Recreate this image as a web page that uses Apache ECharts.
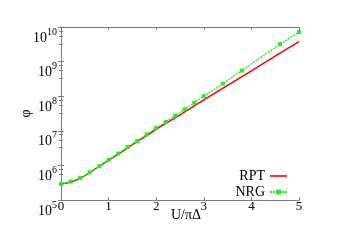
<!DOCTYPE html>
<html><head><meta charset="utf-8">
<script src="https://cdn.jsdelivr.net/npm/echarts@6/dist/echarts.min.js"></script>
<style>html,body{margin:0;padding:0;background:#fff}#c{width:339px;height:240px}</style>
</head><body><div id="c"></div>
<script>
var xTicks = [0, 1, 2, 3, 4, 5];
var yTickExps = [5, 6, 7, 8, 9, 10];
var rptU = [0, 0.2, 0.4, 0.6, 0.8, 1.0, 1.2, 1.4, 1.6, 1.8, 2.0, 2.5, 3.0, 3.5, 4.0, 4.5, 5.0];
var rptPhi = [2.9e5, 3.3e5, 4.2e5, 6.2e5, 9.3e5, 1.4e6, 2.1e6, 3.2e6, 4.9e6, 7.2e6, 1.1e7, 2.9e7, 7.8e7, 2.05e8, 5.4e8, 1.45e9, 3.8e9];
var nrgU = [0, 0.2, 0.4, 0.6, 0.8, 1.0, 1.2, 1.4, 1.6, 1.8, 2.0, 2.2, 2.4, 2.6, 2.8, 3.0, 3.4, 3.8, 4.6, 5.0];
var nrgPhi = [2.9e5, 3.4e5, 4.3e5, 6.3e5, 9.5e5, 1.45e6, 2.2e6, 3.4e6, 5.1e6, 7.9e6, 1.2e7, 1.8e7, 2.75e7, 4.2e7, 6.5e7, 1.0e8, 2.3e8, 5.5e8, 3.2e9, 7.2e9];

var FONT = '"Liberation Serif", "DejaVu Serif", serif';
var AX = '#7f7f7f';
function pairs(a, b) { return a.map(function (v, i) { return [v, b[i]]; }); }
var chart = echarts.init(document.getElementById('c'));
var baseX = { type: 'value', min: 0, max: 5, interval: 1,
  axisLine: { lineStyle: { color: AX, width: 1 } },
  axisTick: { inside: true, length: 3, lineStyle: { color: AX } },
  splitLine: { show: false } };
var baseY = { type: 'log', logBase: 10, min: 1e5, max: 1e10,
  axisLine: { lineStyle: { color: AX, width: 1 } },
  axisTick: { inside: true, length: 3, lineStyle: { color: AX } },
  minorTick: { show: true, splitNumber: 4, length: 2, lineStyle: { color: AX } },
  splitLine: { show: false } };
chart.setOption({
  animation: false,
  backgroundColor: '#fff',
  grid: { left: 61, right: 40, top: 27, bottom: 40 },
  xAxis: [
    Object.assign({}, baseX, { position: 'bottom', name: 'U/πΔ', nameLocation: 'middle', nameGap: 8, nameMoveOverlap: false,
      nameTextStyle: { fontFamily: FONT, fontSize: 14, color: '#000', verticalAlign: 'top', padding: [0, 0, 0, 12] },
      axisLabel: { fontFamily: FONT, fontSize: 13, color: '#000', margin: 0 } }),
    Object.assign({}, baseX, { position: 'top', axisLabel: { show: false } })
  ],
  yAxis: [
    Object.assign({}, baseY, { position: 'left', name: 'φ', nameLocation: 'middle', nameGap: 28, nameRotate: 90, nameMoveOverlap: false,
      nameTextStyle: { fontFamily: FONT, fontSize: 14, color: '#000' },
      axisLabel: { margin: 4, color: '#000', verticalAlign: 'top',
        formatter: function (v) { var e = Math.round(Math.log10(v)); return '{b|10}{s|' + e + '}'; },
        rich: { b: { fontFamily: FONT, fontSize: 14, color: '#000', padding: [4, 0, 0, 0] },
                s: { fontFamily: FONT, fontSize: 10, color: '#000', verticalAlign: 'top' } } } }),
    Object.assign({}, baseY, { position: 'right', axisLabel: { show: false } })
  ],
  legend: {
    orient: 'vertical', right: 46, top: 164, align: 'right', itemGap: 2,
    itemWidth: 17, itemHeight: 6,
    textStyle: { fontFamily: FONT, fontSize: 14, color: '#000' },
    data: [
      { name: 'RPT', icon: 'path://M0,0H16V1.5H0Z' },
      { name: 'NRG' }
    ]
  },
  series: [
    { name: 'RPT', type: 'line', data: pairs(rptU, rptPhi), smooth: true, showSymbol: false, symbol: 'none',
      lineStyle: { color: '#ff0000', width: 1.5 }, itemStyle: { color: '#ff0000' }, z: 2 },
    { name: 'NRG', type: 'line', data: pairs(nrgU, nrgPhi), symbol: 'rect', symbolSize: 4,
      lineStyle: { color: '#22ee22', width: 1.3, type: [2, 1] }, itemStyle: { color: '#22ee22' }, z: 3 }
  ]
});
</script></body></html>
